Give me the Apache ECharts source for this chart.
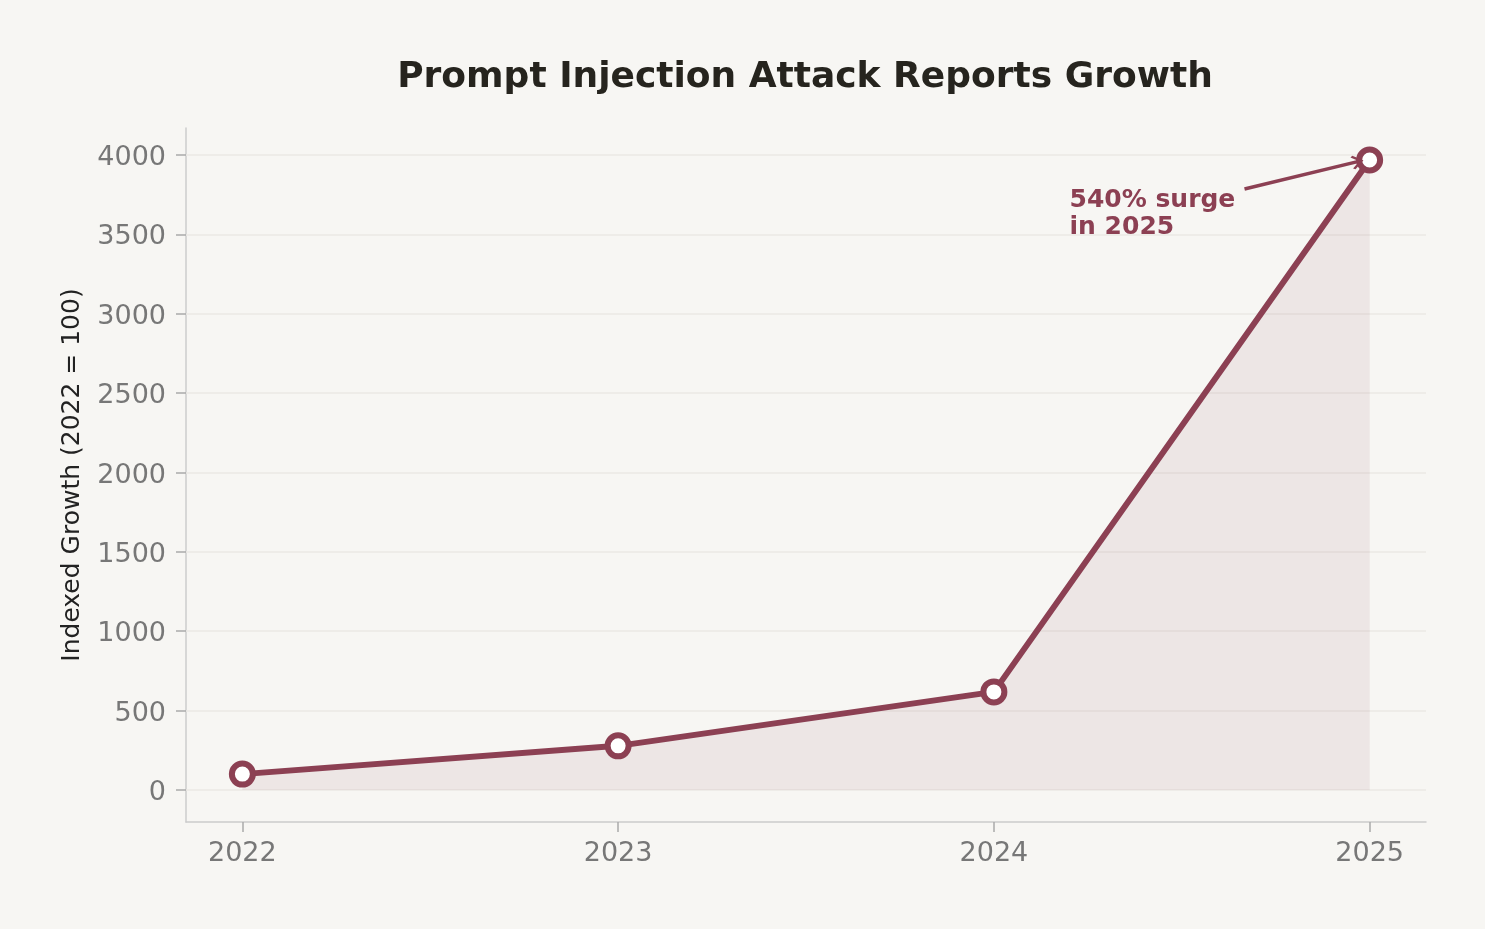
<!DOCTYPE html>
<html>
<head>
<meta charset="utf-8">
<script src="https://cdn.jsdelivr.net/npm/echarts@6/dist/echarts.min.js"></script>
<style>
  html, body { margin: 0; padding: 0; background: #f7f6f3; }
  #main { width: 1485px; height: 929px; }
</style>
</head>
<body>
<div id="main"></div>
<script>
var years = [2022, 2023, 2024, 2025];
var growth = [100, 278, 618, 3968];
var yTicks = [0, 500, 1000, 1500, 2000, 2500, 3000, 3500, 4000];
var noteText = '540% surge\nin 2025';

var chartDom = document.getElementById('main');
var myChart = echarts.init(chartDom);
var option;

var lineColor = '#8c4053';
var font = 'DejaVu Sans';

option = {
    backgroundColor: '#f7f6f3',
    animation: false,
    title: {
        text: 'Prompt Injection Attack Reports Growth',
        left: 800,
        textAlign: 'center',
        top: 55,
        textStyle: {
            fontFamily: font,
            fontSize: 36,
            fontWeight: 'bold',
            color: '#26241e'
        }
    },
    grid: {
        left: 186,
        right: 59,
        top: 128,
        bottom: 107,
        containLabel: false
    },
    xAxis: {
        type: 'value',
        min: 2021.85,
        max: 2025.15,
        axisLine: { onZero: false, lineStyle: { color: '#cccccc', width: 1.5 } },
        axisTick: {
            customValues: years,
            length: 10,
            lineStyle: { color: '#aaaaaa', width: 1.5 }
        },
        axisLabel: {
            customValues: years,
            margin: 18,
            fontFamily: font,
            fontSize: 27,
            color: '#777777',
            formatter: function (v) { return String(v); }
        },
        splitLine: { show: false }
    },
    yAxis: {
        type: 'value',
        min: -201.6,
        max: 4170,
        name: 'Indexed Growth (2022 = 100)',
        nameLocation: 'middle',
        nameGap: 101,
        nameTextStyle: {
            fontFamily: font,
            fontSize: 25,
            color: '#222222'
        },
        axisLine: { show: true, onZero: false, lineStyle: { color: '#cccccc', width: 1.5 } },
        axisTick: {
            show: true,
            customValues: yTicks,
            length: 10,
            lineStyle: { color: '#aaaaaa', width: 1.5 }
        },
        axisLabel: {
            customValues: yTicks,
            margin: 20,
            fontFamily: font,
            fontSize: 27,
            color: '#777777',
            formatter: function (v) { return '{t|' + v + '}'; },
            rich: {
                t: {
                    fontFamily: font,
                    fontSize: 27,
                    color: '#777777',
                    padding: [6, 0, 0, 0]
                }
            }
        },
        splitLine: { show: false }
    },
    series: [
        {
            // grid lines
            type: 'line',
            data: [],
            silent: true,
            z: 1,
            markLine: {
                silent: true,
                z: 1,
                symbol: ['none', 'none'],
                label: { show: false },
                lineStyle: { color: '#ebe9e4', width: 1.5, type: 'solid' },
                data: yTicks.map(function (t) { return { yAxis: t }; })
            }
        },
        {
            type: 'line',
            data: years.map(function (y, i) { return [y, growth[i]]; }),
            z: 3,
            symbol: 'circle',
            symbolSize: 21,
            lineStyle: { color: lineColor, width: 6 },
            itemStyle: { color: '#ffffff', borderColor: lineColor, borderWidth: 6 },
            areaStyle: { color: 'rgba(140, 64, 83, 0.12)', origin: 0 },
            markLine: {
                silent: true,
                symbol: ['none', 'path://M0,0 L10,9 L8,11 L0,4 L-8,11 L-10,9 Z'],
                symbolSize: [14, 12],
                label: { show: false },
                lineStyle: { color: lineColor, width: 3.5, type: 'solid' },
                data: [[{ coord: [2024.667, 3786] }, { coord: [2024.968, 3958] }]]
            },
            markPoint: {
                symbol: 'circle',
                symbolSize: 1,
                itemStyle: { color: 'rgba(0,0,0,0)' },
                label: {
                    show: true,
                    position: 'right',
                    distance: 0,
                    formatter: noteText,
                    fontFamily: font,
                    fontSize: 25,
                    fontWeight: 'bold',
                    lineHeight: 27,
                    color: lineColor,
                    align: 'left',
                    verticalAlign: 'middle'
                },
                data: [{ coord: [2024.2, 3628] }]
            }
        }
    ]
};

option && myChart.setOption(option);
</script>
</body>
</html>
